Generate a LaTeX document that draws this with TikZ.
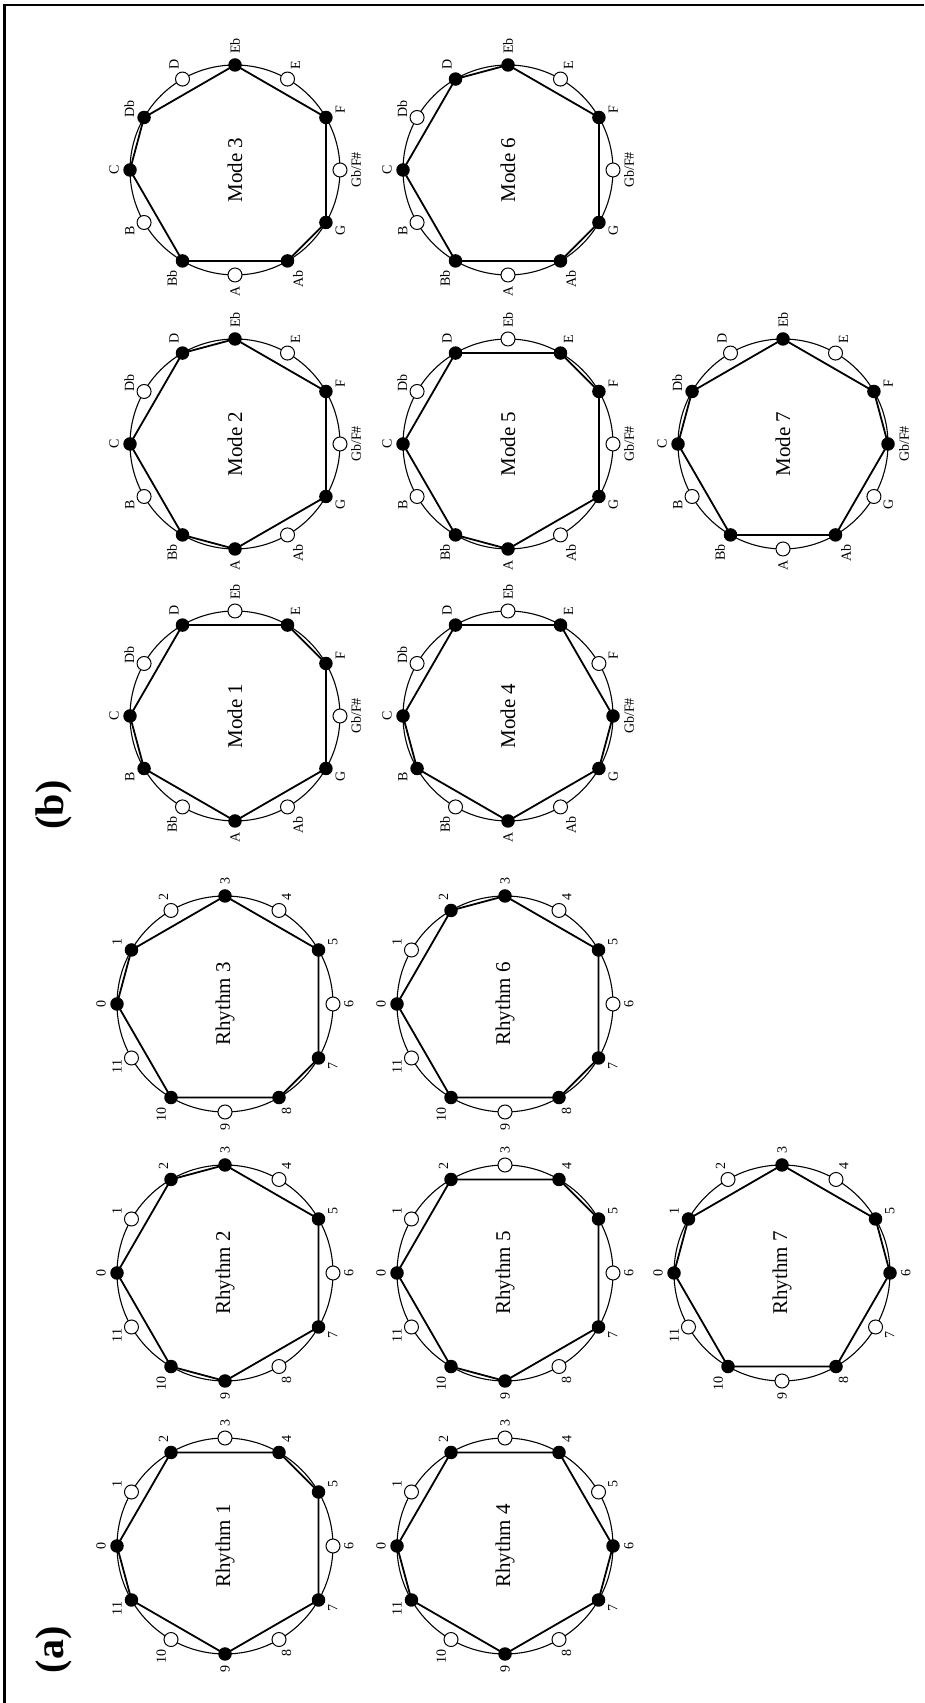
\documentclass[tikz,border=0pt]{standalone}
\usepackage{fontspec}
\setmainfont{Liberation Serif}
\usetikzlibrary{calc}
\tikzset{
  ring/.style={line width=1.1pt},
  poly/.style={line width=1.8pt, line join=miter},
  bdot/.style={circle, fill=black, draw=none, inner sep=0pt, minimum size=13.5pt},
  wdot/.style={circle, fill=white, draw=black, line width=1pt, inner sep=0pt, minimum size=14pt},
  lab/.style={font=\fontsize{14}{16}\selectfont, inner sep=0pt, rotate=90},
  ttl/.style={font=\fontsize{21}{25}\selectfont, rotate=90, inner sep=1pt},
  panel/.style={font=\fontsize{40}{48}\selectfont\bfseries, rotate=90, inner sep=0pt},
  frame/.style={line width=2.7pt, line join=miter}
}
\newcommand{\drawclock}[7]{%
  \coordinate (#1) at (#2);
  \draw[ring] (#1) circle[radius=#3pt];
  \foreach \k in {0,...,11}{\coordinate (#1-\k) at ($(#1)+({180-30*\k}:#3pt)$);}
  \draw[poly] (#1-0) \foreach \i in {#6}{ -- (#1-\i)} -- cycle;
  \foreach \f [count=\c from 0] in {#5}{%
    \ifnum\f=1 \node[bdot] (#1-d\c) at (#1-\c) {};%
    \else \node[wdot] (#1-d\c) at (#1-\c) {};\fi}
  \foreach \l [count=\c from 0] in {#7}{%
    \pgfmathsetmacro\labang{180-30*\c}%
    \pgfmathsetmacro\labanc{270-30*\c}%
    \pgfmathsetmacro\labrad{#3+11}%
    \node[lab, anchor=\labanc] (#1-l\c) at ($(#1)+(\labang:\labrad pt)$) {\l};}
  \node[ttl] (#1-t) at (#1) {#4};
}
\begin{document}
\begin{tikzpicture}[x=1pt,y=1pt]
\useasboundingbox (0,0) rectangle (924,1703);
\fill[white] (0,0) rectangle (924,1703);
\draw[frame] (4.5,0) -- (4.5,1698) -- (924,1698);

\node[panel] (pa) at (54,53) {(a)};
\node[panel] (pb) at (54,898) {(b)};

% Rhythms
\drawclock{R1}{225,157}{108}{Rhythm 1}{1,0,1,0,1,1,0,1,0,1,0,1}{2,4,5,7,9,11}{0,1,2,3,4,5,6,7,8,9,10,11}
\drawclock{R2}{225,430}{108}{Rhythm 2}{1,0,1,1,0,1,0,1,0,1,1,0}{2,3,5,7,9,10}{0,1,2,3,4,5,6,7,8,9,10,11}
\drawclock{R3}{225,699}{108}{Rhythm 3}{1,1,0,1,0,1,0,1,1,0,1,0}{1,3,5,7,8,10}{0,1,2,3,4,5,6,7,8,9,10,11}
\drawclock{R4}{505,157}{108}{Rhythm 4}{1,0,1,0,1,0,1,1,0,1,0,1}{2,4,6,7,9,11}{0,1,2,3,4,5,6,7,8,9,10,11}
\drawclock{R5}{505,430}{108}{Rhythm 5}{1,0,1,0,1,1,0,1,0,1,1,0}{2,4,5,7,9,10}{0,1,2,3,4,5,6,7,8,9,10,11}
\drawclock{R6}{505,699}{108}{Rhythm 6}{1,0,1,1,0,1,0,1,1,0,1,0}{2,3,5,7,8,10}{0,1,2,3,4,5,6,7,8,9,10,11}
\drawclock{R7}{782,430}{108}{Rhythm 7}{1,1,0,1,0,1,1,0,1,0,1,0}{1,3,5,6,8,10}{0,1,2,3,4,5,6,7,8,9,10,11}

% Modes
\drawclock{M1}{235,987}{105}{Mode 1}{1,0,1,0,1,1,0,1,0,1,0,1}{2,4,5,7,9,11}{C,Db,D,Eb,E,F,{Gb/F\#},G,Ab,A,Bb,B}
\drawclock{M2}{235,1259}{105}{Mode 2}{1,0,1,1,0,1,0,1,0,1,1,0}{2,3,5,7,9,10}{C,Db,D,Eb,E,F,{Gb/F\#},G,Ab,A,Bb,B}
\drawclock{M3}{235,1533}{105}{Mode 3}{1,1,0,1,0,1,0,1,1,0,1,0}{1,3,5,7,8,10}{C,Db,D,Eb,E,F,{Gb/F\#},G,Ab,A,Bb,B}
\drawclock{M4}{508,987}{105}{Mode 4}{1,0,1,0,1,0,1,1,0,1,0,1}{2,4,6,7,9,11}{C,Db,D,Eb,E,F,{Gb/F\#},G,Ab,A,Bb,B}
\drawclock{M5}{508,1259}{105}{Mode 5}{1,0,1,0,1,1,0,1,0,1,1,0}{2,4,5,7,9,10}{C,Db,D,Eb,E,F,{Gb/F\#},G,Ab,A,Bb,B}
\drawclock{M6}{508,1533}{105}{Mode 6}{1,0,1,1,0,1,0,1,1,0,1,0}{2,3,5,7,8,10}{C,Db,D,Eb,E,F,{Gb/F\#},G,Ab,A,Bb,B}
\drawclock{M7}{783,1259}{105}{Mode 7}{1,1,0,1,0,1,1,0,1,0,1,0}{1,3,5,6,8,10}{C,Db,D,Eb,E,F,{Gb/F\#},G,Ab,A,Bb,B}
\end{tikzpicture}
\end{document}
